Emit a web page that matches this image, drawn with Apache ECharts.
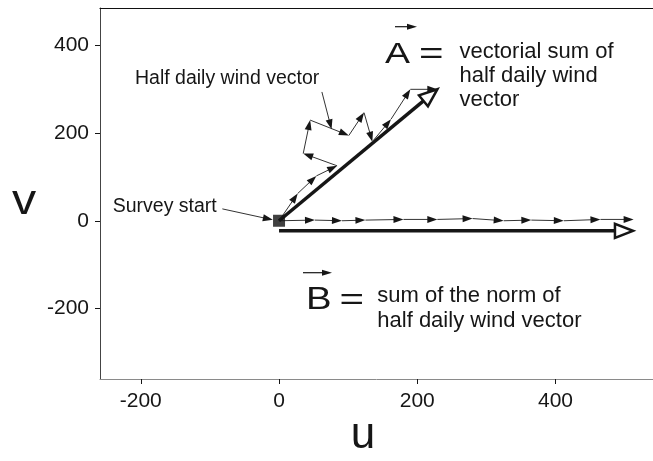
<!DOCTYPE html>
<html>
<head>
<meta charset="utf-8">
<title>Half daily wind vectors</title>
<script src="https://cdn.jsdelivr.net/npm/echarts@6/dist/echarts.min.js"></script>
<style>
  html, body { margin: 0; padding: 0; background: #fff; }
  #chart { width: 653px; height: 461px; }
</style>
</head>
<body>
<div id="chart"></div>
<script>
// 1. data (u, v)
// half daily wind vectors put head to tail from the survey start
const vecSumU = [0, 27, 54, 84, 35, 45, 101, 123, 135, 162, 190, 229];
const vecSumV = [0, 62, 102, 125, 153, 229, 194, 246, 180, 231, 299, 299];
// the same vectors laid along u (norm only)
const normSumU = [0, 52, 91, 125, 180, 229, 280, 325, 365, 412, 465, 513];
const normSumV = [0, 1.5, 0, 1.5, 3, 3, 5, 0, 1.5, 0, 3, 3];
// resulting vectors A and B
const vecA = [0, 0, 229, 299];
const vecB = [0, -23, 512, -23];
const startPoint = [0, 0];
// annotation pointers [u0, v0, u1, v1]
const surveyPointer = [-82, 27, -9, 2];
const halfPointer = [62, 293, 76, 208];

// axes
const uTicks = [-200, 0, 200, 400];
const vTicks = [-200, 0, 200, 400];
const uRange = [-259, 541];
const vRange = [-360, 484];

const INK = '#161616';
const FONT = '"Liberation Sans", Arial, sans-serif';

// 2. helpers
const toSegments = (us, vs) => us.slice(1).map((u, i) => [us[i], vs[i], u, vs[i + 1]]);

// draws one arrow per data item, coordinates go through api.coord
const arrowRenderer = (opt) => (params, api) => {
	const p0 = api.coord([api.value(0), api.value(1)]);
	const p1 = api.coord([api.value(2), api.value(3)]);
	const dx = p1[0] - p0[0];
	const dy = p1[1] - p0[1];
	const len = Math.hypot(dx, dy) || 1;
	const ux = dx / len;
	const uy = dy / len;
	const bx = p1[0] - ux * opt.headLen;
	const by = p1[1] - uy * opt.headLen;
	const hw = opt.headWidth / 2;
	const head = [
		[p1[0], p1[1]],
		[bx - uy * hw, by + ux * hw],
		[bx + uy * hw, by - ux * hw],
	];
	// filled heads: let the shaft run into the head a bit
	const endBack = opt.open ? opt.headLen : opt.headLen * 0.5;
	return {
		type: 'group',
		children: [
			{
				type: 'line',
				shape: { x1: p0[0], y1: p0[1], x2: p1[0] - ux * endBack, y2: p1[1] - uy * endBack },
				style: { stroke: opt.color || INK, lineWidth: opt.lineWidth },
			},
			{
				type: 'polygon',
				shape: { points: head },
				style: opt.open
					? { fill: '#fff', stroke: INK, lineWidth: opt.headStroke, lineJoin: 'miter' }
					: { fill: INK },
			},
		],
	};
};

const arrowSeries = (name, data, opt) => ({
	name,
	type: 'custom',
	coordinateSystem: 'cartesian2d',
	renderItem: arrowRenderer(opt),
	encode: { x: [0, 2], y: [1, 3] },
	data,
	silent: true,
});

const thin = { lineWidth: 1, headLen: 10, headWidth: 7, color: '#333' };
const bold = { lineWidth: 3.5, headLen: 18, headWidth: 14, open: true, headStroke: 2.5 };

// small arrow drawn above a letter (pixel graphic)
const overArrow = (x1, x2, y) => ({
	type: 'group',
	children: [
		{ type: 'line', shape: { x1, y1: y, x2: x2 - 5, y2: y }, style: { stroke: INK, lineWidth: 1.2 } },
		{ type: 'polygon', shape: { points: [[x2, y], [x2 - 10, y - 3], [x2 - 10, y + 3]] }, style: { fill: INK } },
	],
});

const textEl = (text, x, y, size, extra) => ({
	type: 'text',
	x,
	y,
	...(extra || {}),
	style: {
		text, x: 0, y: 0, fill: INK, font: size + 'px ' + FONT,
		verticalAlign: 'middle', align: (extra && extra.align) || 'left',
		lineHeight: (extra && extra.lh) || undefined,
	},
});

// 3. options
const option = {
	animation: false,
	backgroundColor: '#fff',
	grid: { left: 100, right: 0, top: 8, bottom: 82, outerBoundsMode: 'none' },
	xAxis: [
		{
			type: 'value',
			min: uRange[0],
			max: uRange[1],
			name: 'u',
			nameLocation: 'middle',
			nameGap: 35,
			nameMoveOverlap: false,
			nameTextStyle: { fontSize: 44, fontFamily: FONT, color: INK, padding: [0, 27, 0, 0] },
			axisLine: { show: true, onZero: false, lineStyle: { color: '#8a8a8a', width: 1 } },
			axisTick: { show: true, length: 5, customValues: uTicks, lineStyle: { color: INK } },
			axisLabel: { customValues: uTicks, margin: 12, fontSize: 21, fontFamily: FONT, color: INK },
			splitLine: { show: false },
		},
		{
			type: 'value',
			position: 'top',
			min: uRange[0],
			max: uRange[1],
			axisLine: { show: true, onZero: false, lineStyle: { color: '#111', width: 1.2 } },
			axisTick: { show: false },
			axisLabel: { show: false },
			splitLine: { show: false },
		},
	],
	yAxis: {
		type: 'value',
		min: vRange[0],
		max: vRange[1],
		axisLine: { show: true, onZero: false, lineStyle: { color: '#444', width: 1 } },
		axisTick: { show: true, length: 5, customValues: vTicks, lineStyle: { color: INK } },
		axisLabel: { customValues: vTicks, margin: 11, fontSize: 21, fontFamily: FONT, color: INK },
		splitLine: { show: false },
	},
	series: [
		arrowSeries('A', [vecA], bold),
		arrowSeries('B', [vecB], bold),
		arrowSeries('Half daily wind vector', toSegments(vecSumU, vecSumV), thin),
		arrowSeries('Norm of half daily wind vector', toSegments(normSumU, normSumV), thin),
		arrowSeries('pointers', [surveyPointer, halfPointer], thin),
		{
			name: 'Survey start',
			type: 'scatter',
			data: [startPoint],
			symbol: 'rect',
			symbolSize: 12,
			itemStyle: { color: '#111' },
			z: 5,
			silent: true,
		},
	],
	graphic: [
		// y axis name, sits a little below the middle of the axis
		textEl('v', 24, 202, 42, { scaleX: 1.15, align: 'center' }),
		textEl('Half daily wind vector', 135, 78.2, 19.5),
		textEl('Survey start', 112.7, 206.5, 19.5),
		textEl('A', 385, 54.5, 30, { scaleX: 1.25 }),
		textEl('=', 419, 55, 30, { scaleX: 1.4 }),
		overArrow(395, 417, 26.7),
		textEl('vectorial sum of\nhalf daily wind\nvector', 459.5, 75.6, 22, { lh: 24 }),
		textEl('B', 306, 300.5, 32, { scaleX: 1.2 }),
		textEl('=', 339.5, 301, 30, { scaleX: 1.4 }),
		overArrow(303, 332, 272.7),
		textEl('sum of the norm of\nhalf daily wind vector', 377.3, 308.1, 22, { lh: 25 }),
	],
};

const chart = echarts.init(document.getElementById('chart'), null, { renderer: 'canvas' });
chart.setOption(option);
</script>
</body>
</html>
